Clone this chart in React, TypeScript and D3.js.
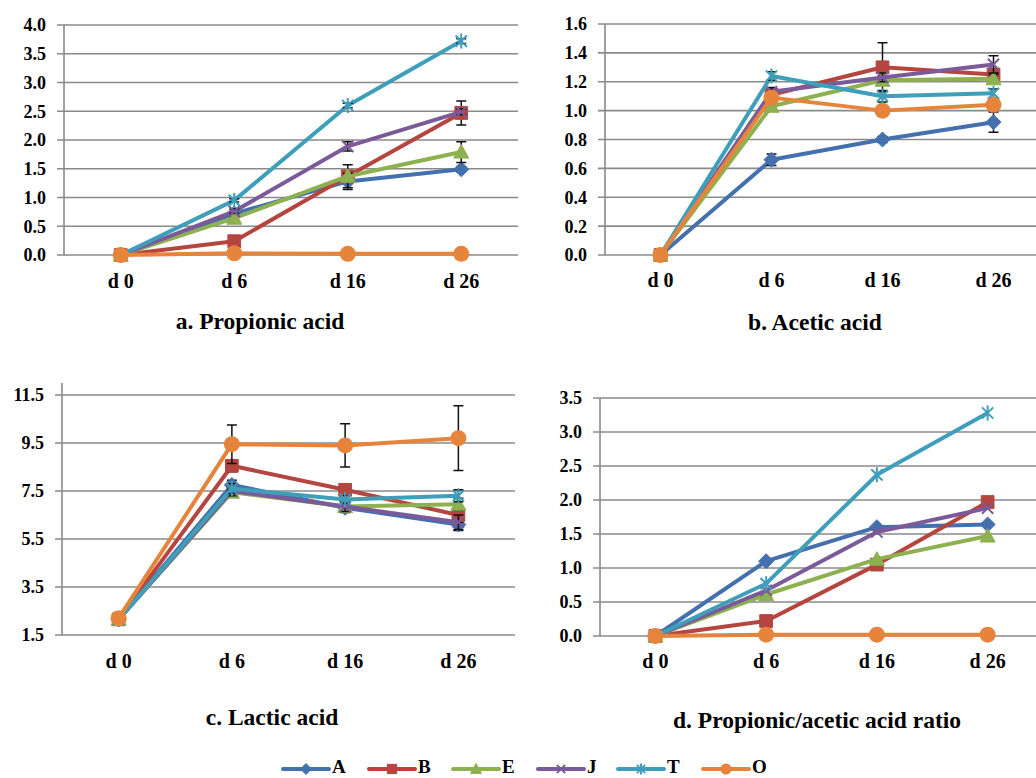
import * as d3 from 'd3'

const groups = ['A', 'B', 'E', 'J', 'T', 'O']
const days = ['d 0', 'd 6', 'd 16', 'd 26']
const colors = ['#4470AE', '#B5453F', '#8DB050', '#7A5A98', '#3F9EBA', '#E6843C']
const shapes = ['diamond', 'square', 'triangle', 'x', 'star', 'circle']

// a. propionic acid, one row per group
const propionic = [
  [0, 0.72, 1.28, 1.49],
  [0, 0.24, 1.37, 2.47],
  [0, 0.64, 1.37, 1.79],
  [0, 0.76, 1.89, 2.49],
  [0, 0.95, 2.6, 3.72],
  [0, 0.03, 0.02, 0.02]
]
const propionicSE = [
  [0, 0.03, 0.14, 0.04],
  [0, 0.03, 0.2, 0.21],
  [0, 0.03, 0.05, 0.18],
  [0, 0.04, 0.08, 0.05],
  [0, 0.03, 0.04, 0.04],
  [0, 0, 0, 0]
]
const propionicTicks = [0, 0.5, 1, 1.5, 2, 2.5, 3, 3.5, 4]

// b. acetic acid
const acetic = [
  [0, 0.66, 0.8, 0.92],
  [0, 1.11, 1.3, 1.25],
  [0, 1.03, 1.21, 1.22],
  [0, 1.13, 1.23, 1.32],
  [0, 1.24, 1.1, 1.12],
  [0, 1.09, 1.0, 1.04]
]
const aceticSE = [
  [0, 0.04, 0.02, 0.07],
  [0, 0.04, 0.17, 0.04],
  [0, 0.03, 0.03, 0.03],
  [0, 0.03, 0.03, 0.06],
  [0, 0.03, 0.04, 0.03],
  [0, 0.02, 0.02, 0.03]
]
const aceticTicks = [0, 0.2, 0.4, 0.6, 0.8, 1.0, 1.2, 1.4, 1.6]

// c. lactic acid
const lactic = [
  [2.15, 7.75, 6.8, 6.1],
  [2.15, 8.55, 7.55, 6.5],
  [2.15, 7.45, 6.85, 6.95],
  [2.15, 7.5, 6.85, 6.2],
  [2.15, 7.6, 7.15, 7.3],
  [2.2, 9.45, 9.4, 9.7]
]
const lacticSE = [
  [0.05, 0.2, 0.2, 0.25],
  [0.05, 0.25, 0.2, 0.3],
  [0.05, 0.2, 0.2, 0.25],
  [0.05, 0.2, 0.2, 0.3],
  [0.05, 0.2, 0.15, 0.25],
  [0.05, 0.8, 0.9, 1.35]
]
const lacticTicks = [1.5, 3.5, 5.5, 7.5, 9.5, 11.5]

// d. propionic / acetic ratio
const ratio = [
  [0, 1.1, 1.6, 1.64],
  [0, 0.22, 1.05, 1.97],
  [0, 0.61, 1.13, 1.47],
  [0, 0.67, 1.53, 1.88],
  [0, 0.77, 2.37, 3.28],
  [0, 0.02, 0.02, 0.02]
]
const ratioTicks = [0, 0.5, 1, 1.5, 2, 2.5, 3, 3.5]

const font = 'Liberation Serif, Times New Roman, serif'
const gridColor = '#8A8A8A'

const panels = [
  { title: 'a. Propionic acid', values: propionic, se: propionicSE, ticks: propionicTicks, domain: [0, 4],
    left: 64, right: 518, top: 25, bottom: 255, catY: 288, titleX: 260, titleY: 329 },
  { title: 'b. Acetic acid', values: acetic, se: aceticSE, ticks: aceticTicks, domain: [0, 1.6],
    left: 605, right: 1049, top: 24, bottom: 255, catY: 287, titleX: 815, titleY: 330 },
  { title: 'c. Lactic acid', values: lactic, se: lacticSE, ticks: lacticTicks, domain: [1.5, 12],
    left: 62, right: 515, top: 383, bottom: 635, catY: 668, titleX: 272, titleY: 725 },
  { title: 'd. Propionic/acetic acid ratio', values: ratio, se: null, ticks: ratioTicks, domain: [0, 3.5],
    left: 600, right: 1043, top: 398, bottom: 636, catY: 668, titleX: 817, titleY: 728 }
]

function Marker({ shape, x, y, r, color }: any) {
  if (shape === 'circle') return <circle cx={x} cy={y} r={r} fill={color} />
  let d = ''
  let stroke = false
  if (shape === 'diamond') d = `M0,${-r}L${r},0L0,${r}L${-r},0Z`
  if (shape === 'square') { const s = r * 0.85; d = `M${-s},${-s}H${s}V${s}H${-s}Z` }
  if (shape === 'triangle') d = `M0,${-r}L${r},${r * 0.8}L${-r},${r * 0.8}Z`
  if (shape === 'x') { const s = r * 0.75; d = `M${-s},${-s}L${s},${s}M${s},${-s}L${-s},${s}`; stroke = true }
  if (shape === 'star') { const s = r * 0.75; d = `M${-s},${-s}L${s},${s}M${s},${-s}L${-s},${s}M0,${-r}V${r}`; stroke = true }
  return (
    <path
      transform={`translate(${x},${y})`}
      d={d}
      fill={stroke ? 'none' : color}
      stroke={color}
      strokeWidth={stroke ? 2 : 1}
    />
  )
}

function Panel({ p }: any) {
  const x = d3.scalePoint().domain(days).range([p.left, p.right]).padding(0.5)
  const y = d3.scaleLinear().domain(p.domain).range([p.bottom, p.top])
  const line = d3.line<number>().x((_, i) => x(days[i])!).y((d) => y(d))
  const fmt = d3.format('.1f')

  return (
    <g>
      {p.ticks.map((t: number) => (
        <g key={t}>
          <line x1={p.left - 7} x2={p.right} y1={y(t)} y2={y(t)} stroke={gridColor} strokeWidth={1.6} />
          <text x={p.left - 18} y={y(t)} dy="0.36em" textAnchor="end" fontSize={18} fontWeight="bold">
            {fmt(t)}
          </text>
        </g>
      ))}
      <line x1={p.left} x2={p.left} y1={p.top} y2={p.bottom} stroke={gridColor} strokeWidth={1.6} />
      {days.map((d) => (
        <text key={d} x={x(d)} y={p.catY} textAnchor="middle" fontSize={20} fontWeight="bold">
          {d}
        </text>
      ))}
      {p.values.map((vals: number[], si: number) => (
        <g key={groups[si]}>
          <path d={line(vals)!} fill="none" stroke={colors[si]} strokeWidth={4} strokeLinejoin="round" />
          {p.se &&
            vals.map((v, i) => {
              const e = p.se[si][i]
              if (!e) return null
              const cx = x(days[i])!
              return (
                <path
                  key={i}
                  d={`M${cx},${y(v - e)}V${y(v + e)}M${cx - 5},${y(v + e)}H${cx + 5}M${cx - 5},${y(v - e)}H${cx + 5}`}
                  stroke="#111"
                  strokeWidth={1.5}
                  fill="none"
                />
              )
            })}
          {vals.map((v, i) => (
            <Marker key={i} shape={shapes[si]} x={x(days[i])} y={y(v)} r={shapes[si] === 'circle' ? 8 : 7.5} color={colors[si]} />
          ))}
        </g>
      ))}
      <text x={p.titleX} y={p.titleY} textAnchor="middle" fontSize={23.5} fontWeight="bold">
        {p.title}
      </text>
    </g>
  )
}

const legendX = [283, 369, 453, 538, 618, 703]

export default function App() {
  return (
    <svg
      width={1036}
      height={778}
      fontFamily={font}
      style={{ position: 'absolute', left: 0, top: 0, background: '#fff' }}
    >
      {panels.map((p) => (
        <Panel key={p.title} p={p} />
      ))}
      {groups.map((g, i) => (
        <g key={g}>
          <line x1={legendX[i]} x2={legendX[i] + 46} y1={769} y2={769} stroke={colors[i]} strokeWidth={4} strokeLinecap="round" />
          <Marker shape={shapes[i]} x={legendX[i] + 23} y={769} r={5.5} color={colors[i]} />
          <text x={legendX[i] + 49} y={773} fontSize={19} fontWeight="bold">
            {g}
          </text>
        </g>
      ))}
    </svg>
  )
}
